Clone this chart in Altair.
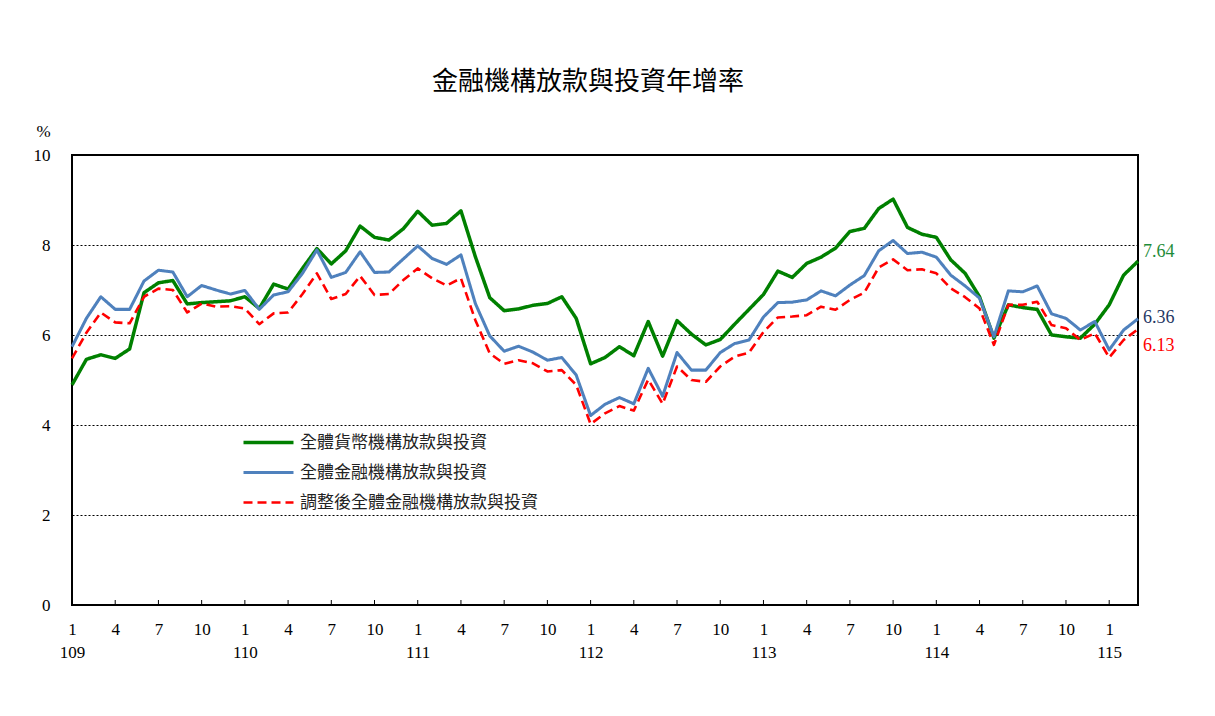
import altair as alt
import pandas as pd

# ---- data ----
series_names = ["全體貨幣機構放款與投資", "全體金融機構放款與投資", "調整後全體金融機構放款與投資"]

monetary = [4.89, 5.46, 5.56, 5.48, 5.69, 6.94, 7.16, 7.21, 6.69, 6.72, 6.74, 6.76,
            6.85, 6.59, 7.13, 7.02, 7.48, 7.92, 7.58, 7.87, 8.42, 8.17, 8.11, 8.36,
            8.75, 8.44, 8.48, 8.76, 7.74, 6.83, 6.54, 6.58, 6.66, 6.70, 6.85, 6.37,
            5.36, 5.50, 5.74, 5.54, 6.30, 5.53, 6.32, 6.02, 5.78, 5.90, 6.24, 6.57,
            6.90, 7.42, 7.28, 7.59, 7.73, 7.93, 8.30, 8.37, 8.81, 9.02, 8.39, 8.24,
            8.17, 7.67, 7.37, 6.85, 5.93, 6.67, 6.61, 6.57, 6.00, 5.96, 5.93, 6.24,
            6.67, 7.33, 7.64]

financial = [5.74, 6.37, 6.85, 6.57, 6.57, 7.20, 7.44, 7.40, 6.85, 7.10, 7.00, 6.91,
             6.99, 6.57, 6.89, 6.96, 7.37, 7.89, 7.28, 7.39, 7.85, 7.39, 7.40, 7.69,
             7.98, 7.70, 7.57, 7.78, 6.70, 5.98, 5.64, 5.75, 5.62, 5.44, 5.50, 5.11,
             4.21, 4.46, 4.61, 4.47, 5.26, 4.64, 5.61, 5.22, 5.22, 5.61, 5.81, 5.89,
             6.40, 6.72, 6.73, 6.78, 6.98, 6.87, 7.11, 7.32, 7.87, 8.10, 7.81, 7.84,
             7.73, 7.33, 7.09, 6.82, 5.96, 6.98, 6.96, 7.09, 6.47, 6.37, 6.11, 6.30,
             5.67, 6.11, 6.36]

adjusted = [5.48, 6.05, 6.50, 6.28, 6.26, 6.85, 7.03, 7.00, 6.50, 6.70, 6.63, 6.64,
            6.59, 6.24, 6.48, 6.50, 6.91, 7.37, 6.80, 6.91, 7.31, 6.89, 6.91, 7.22,
            7.48, 7.26, 7.10, 7.26, 6.33, 5.59, 5.36, 5.44, 5.37, 5.19, 5.22, 4.89,
            4.02, 4.26, 4.42, 4.32, 5.01, 4.47, 5.30, 5.00, 4.96, 5.30, 5.52, 5.61,
            6.07, 6.39, 6.41, 6.44, 6.63, 6.56, 6.78, 6.94, 7.50, 7.68, 7.44, 7.46,
            7.37, 7.04, 6.84, 6.59, 5.78, 6.67, 6.67, 6.74, 6.22, 6.15, 5.89, 6.04,
            5.50, 5.89, 6.13]

month_labels = ["1", "4", "7", "10"]
year_labels = ["109", "110", "111", "112", "113", "114", "115"]
y_ticks = [0, 2, 4, 6, 8, 10]

n = len(monetary)
period = list(range(n))
tick_positions = list(range(0, n, 3))

rows = []
for name, vals in zip(series_names, [monetary, financial, adjusted]):
    for p, v in zip(period, vals):
        rows.append({"period": p, "series": name, "value": v})
df = pd.DataFrame(rows)

last = pd.DataFrame({
    "period": [period[-1]] * 3,
    "series": series_names,
    "value": [monetary[-1], financial[-1], adjusted[-1]],
    "label": [f"{monetary[-1]:.2f}", f"{financial[-1]:.2f}", f"{adjusted[-1]:.2f}"],
})
ticks_df = pd.DataFrame({"period": tick_positions})

SERIF = "Liberation Serif, Times New Roman, serif"
CJK = "Noto Sans CJK TC"

month_arr = "[" + ",".join(f"'{m}'" for m in month_labels) + "]"
year_arr = "[" + ",".join(f"'{y}'" for y in year_labels) + "]"
label_expr = (
    f"datum.value % 12 == 0 ? [{month_arr}[0], {year_arr}[floor(datum.value / 12)]]"
    f" : {month_arr}[(datum.value % 12) / 3]"
)

x_scale = alt.Scale(domain=[0, n - 1], nice=False, zero=False)
y_scale = alt.Scale(domain=[0, 10], nice=False)

color_scale = alt.Scale(domain=series_names, range=["#008000", "#4F81BD", "#FF0000"])
dash_scale = alt.Scale(domain=series_names, range=[[1, 0], [1, 0], [9, 5]])
width_scale = alt.Scale(domain=series_names, range=[3.5, 2.6, 3.5])

x_enc = alt.X(
    "period:Q", scale=x_scale, title=None,
    axis=alt.Axis(values=tick_positions, labelExpr=label_expr, grid=False, domain=False,
                  ticks=False, labelFont=SERIF, labelFontSize=17, labelColor="#000",
                  labelAlign="center", labelBaseline="top", labelPadding=16,
                  labelLineHeight=23, labelFlush=False, labelOverlap=False),
)
y_enc = alt.Y(
    "value:Q", scale=y_scale, title="%",
    axis=alt.Axis(values=y_ticks, grid=True, gridColor="#000", gridDash=[2, 2],
                  gridWidth=1, domain=False, ticks=False, labelFont=SERIF,
                  labelFontSize=17, labelColor="#000", labelPadding=22,
                  labelBaseline="middle",
                  titleAngle=0, titleX=-29, titleY=-24, titleAlign="center",
                  titleBaseline="middle", titleFont=SERIF, titleFontSize=17,
                  titleFontWeight="normal", titleColor="#000"),
)

legend = alt.Legend(
    title=None, orient="none", legendX=168, legendY=279,
    symbolType="M-1,0H9", symbolSize=100, labelFont=CJK, labelFontSize=17,
    labelColor="#222", rowPadding=12, labelOffset=43, labelLimit=0,
)


def line_layer(name):
    return alt.Chart(df).transform_filter(alt.datum.series == name).mark_line(
        strokeJoin="round", strokeCap="butt"
    ).encode(
        x=x_enc,
        y=y_enc,
        color=alt.Color("series:N", scale=color_scale, legend=legend, sort=series_names),
        strokeDash=alt.StrokeDash("series:N", scale=dash_scale, legend=legend, sort=series_names),
        strokeWidth=alt.StrokeWidth("series:N", scale=width_scale, legend=legend, sort=series_names),
        order="period:Q",
    )


lines = [line_layer(s) for s in series_names]

inward_ticks = alt.Chart(ticks_df).mark_rule(color="#000", strokeWidth=1).encode(
    x=alt.X("period:Q", scale=x_scale), y=alt.value(450), y2=alt.value(445)
)

label_colors = ["#1E8C3A", "#1F3864", "#FF0000"]
label_dy = [-9, -1, 17]
end_labels = []
for name, col, dy in zip(series_names, label_colors, label_dy):
    end_labels.append(
        alt.Chart(last).transform_filter(alt.datum.series == name).mark_text(
            align="left", baseline="middle", dx=5, dy=dy, font=SERIF, fontSize=18, color=col
        ).encode(x=alt.X("period:Q", scale=x_scale), y=alt.Y("value:Q", scale=y_scale),
                 text="label:N")
    )

chart = alt.layer(inward_ticks, *lines, *end_labels).properties(
    width=1066, height=450,
    title=alt.Title("金融機構放款與投資年增率", font=CJK, fontSize=26, fontWeight="normal",
                    color="#000", anchor="middle", dx=-17, offset=1, frame="group",
                    baseline="bottom"),
    autosize=alt.AutoSizeParams(type="none"),
    padding={"left": 64, "top": 147, "right": 69, "bottom": 103},
    background="white",
).configure_view(stroke="#000", strokeWidth=2)

chart.save("out.html", embed_options={"renderer": "svg", "actions": False})
